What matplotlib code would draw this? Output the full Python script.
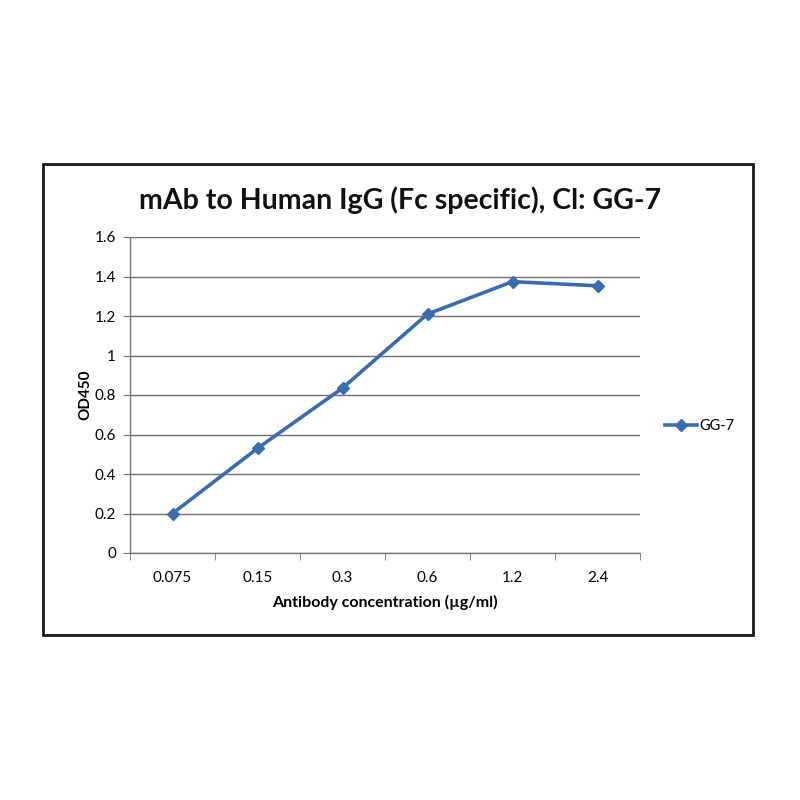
import matplotlib
matplotlib.use("Agg")
import matplotlib.pyplot as plt
from matplotlib.patches import Rectangle

categories = ["0.075", "0.15", "0.3", "0.6", "1.2", "2.4"]
od450 = [0.20, 0.53, 0.835, 1.21, 1.374, 1.353]
series_name = "GG-7"
yticks = [0, 0.2, 0.4, 0.6, 0.8, 1, 1.2, 1.4, 1.6]
ytick_labels = ["0", "0.2", "0.4", "0.6", "0.8", "1", "1.2", "1.4", "1.6"]

plt.rcParams['font.family'] = ['Lato', 'DejaVu Sans']

fig = plt.figure(figsize=(8, 8), dpi=100)
W = H = 800.0
fig.patches.append(Rectangle((43 / W, 1 - 635 / H), (753 - 43) / W, (635 - 164) / H,
                             transform=fig.transFigure, fill=False, edgecolor="#1a1a1a",
                             linewidth=2.0, zorder=0))

ax = fig.add_axes([130 / W, 1 - 553 / H, (640 - 130) / W, (553 - 237) / H])
x = [i + 0.5 for i in range(len(categories))]
line, = ax.plot(x, od450, color="#3A6DB0", linewidth=2.6, marker="D", markersize=6.5,
                markerfacecolor="#3A6DB0", markeredgecolor="#3A6DB0", label=series_name, zorder=3)

ax.set_xlim(0, len(categories))
ax.set_ylim(0, 1.6)
ax.set_yticks(yticks)
ax.set_yticklabels(ytick_labels)
ax.set_xticks(x)
ax.set_xticklabels(categories)
ax.set_xticks(range(len(categories) + 1), minor=True)
ax.tick_params(axis="x", which="major", length=0, pad=13, labelsize=11)
ax.tick_params(axis="x", which="minor", length=5, color="#777777", direction="out")
ax.tick_params(axis="y", length=5, color="#777777", pad=5, labelsize=11)
ax.grid(axis="y", color="#707070", linewidth=1.0, zorder=1)
for s in ["top", "right"]:
    ax.spines[s].set_visible(False)
for s in ["left", "bottom"]:
    ax.spines[s].set_color("#777777")
    ax.spines[s].set_linewidth(1.0)
ax.set_axisbelow(True)

ax.set_xlabel("Antibody concentration (µg/ml)", fontsize=11.5, fontweight="bold", labelpad=7)
ax.set_ylabel("OD450", fontsize=11, fontweight="bold", labelpad=2)

fig.text(400 / W, 1 - 200 / H, "mAb to Human IgG (Fc specific), Cl: GG-7", ha="center", va="center",
         fontsize=20.5, fontweight="bold", color="#111111")

leg = fig.legend(handles=[line], loc="center left", bbox_to_anchor=(652 / W, 1 - 426 / H),
                 frameon=False, fontsize=10.5, handlelength=2.2, handletextpad=0.15)

fig.savefig("out.png", dpi=100)
